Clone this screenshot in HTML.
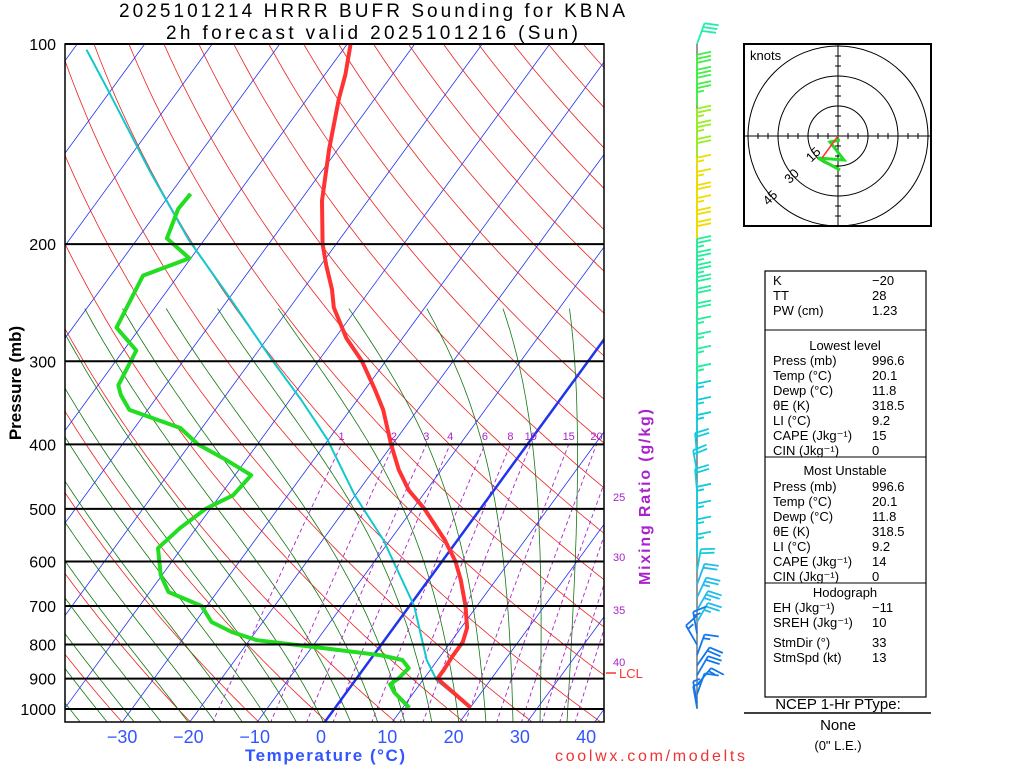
<!DOCTYPE html>
<html><head><meta charset="utf-8"><style>
html,body{margin:0;padding:0;background:#fff;}
svg{display:block;font-family:"Liberation Sans",sans-serif;}
</style></head><body>
<svg id="c" width="1024" height="768" viewBox="0 0 1024 768" xmlns="http://www.w3.org/2000/svg">
<defs><clipPath id="pc"><rect x="65" y="44" width="539" height="678"/></clipPath></defs>
<g id="bg" clip-path="url(#pc)"></g>
<g id="data" clip-path="url(#pc)"></g>
<g id="axes"></g>
<text x="372" y="17" text-anchor="middle" font-size="19" textLength="506">2025101214 HRRR BUFR Sounding for KBNA</text>
<text x="372" y="39" text-anchor="middle" font-size="19" textLength="412">2h forecast valid 2025101216 (Sun)</text>
<text transform="translate(21,383) rotate(-90)" text-anchor="middle" font-size="17" font-weight="bold">Pressure (mb)</text>
<text x="325" y="761" text-anchor="middle" font-size="17" font-weight="bold" fill="#3355ff" textLength="160">Temperature (°C)</text>
<text x="650" y="761" text-anchor="middle" font-size="16" fill="#ee3333" textLength="190">coolwx.com/modelts</text>
<text transform="translate(650,497) rotate(-90)" text-anchor="middle" font-size="16" font-weight="bold" fill="#aa22cc" textLength="176">Mixing Ratio (g/kg)</text>
<g id="barbs"></g>
<g id="hodo">
<rect x="744" y="44" width="187" height="182" fill="none" stroke="#000" stroke-width="2"/>
<text x="750" y="60" font-size="13">knots</text>
</g>
<g id="table" font-size="13">
<rect x="765" y="271" width="161" height="426" fill="none" stroke="#000" stroke-width="1.2"/>
<line x1="765" y1="330" x2="926" y2="330" stroke="#000"/>
<line x1="765" y1="457" x2="926" y2="457" stroke="#000"/>
<line x1="765" y1="583" x2="926" y2="583" stroke="#000"/>
</g>
<text x="838" y="709" text-anchor="middle" font-size="15">NCEP 1-Hr PType:</text>
<line x1="744" y1="713" x2="931" y2="713" stroke="#000" stroke-width="1.5"/>
<text x="838" y="730" text-anchor="middle" font-size="15">None</text>
<text x="838" y="750" text-anchor="middle" font-size="13">(0" L.E.)</text>
</svg>
<script>
// ---- data ----
const tempP = [996,923,900,874,832,793,755,700,640,600,557,500,469,437,400,355,331,300,277,249,234,215,200,172,144,121,111,100];
const tempT = [20.1,14.0,12.0,12.0,11.8,11.8,10.9,8.3,4.8,2.0,-1.9,-8.3,-12.6,-16.3,-20.2,-25.1,-28.5,-33.5,-38.3,-43.5,-45.7,-49.2,-52,-56.8,-61.3,-65.3,-67,-69.5];
const dewP = [996,944,918,900,868,844,830,810,788,766,740,700,667,629,573,534,500,477,445,422,400,378,355,337,326,289,267,223,210,196,177,168];
const dewT = [11.0,7.1,5.6,6.2,6.6,4.8,1.0,-8.2,-18.9,-23.5,-27.6,-30.8,-37.2,-40.2,-43.5,-42.4,-40.7,-38.1,-37.6,-43,-48.8,-53.2,-62.7,-65.6,-67,-68.1,-73.5,-75.2,-70.2,-75.7,-77.2,-77];
const parcelP = [996,906,844,700,557,477,393,343,298,243,197,155,117,102];
const parcelT = [20.1,12.1,8.4,0.7,-11,-20.1,-30.2,-38.3,-47.1,-59.4,-72.3,-85.6,-100.6,-108];
const pTicks = [100,200,300,400,500,600,700,800,900,1000];
const tTicks = [-30,-20,-10,0,10,20,30,40];
const mixW = [1,2,3,4,6,8,10,15,20,25,30,35,40];
const barbP = [100,112,118,124,135,142,150,160,168,176,184,192,200,212,222,232,242,252,265,280,295,310,330,350,370,390,415,440,470,500,530,560,590,620,650,680,710,740,770,800,830,860,890,920,950,980,996];
const barbDir = [20,360,360,360,360,360,360,360,360,360,360,360,360,360,360,360,360,360,360,360,360,360,360,360,360,360,355,350,355,360,360,360,360,10,20,25,30,30,350,330,20,35,30,40,20,350,350];
const barbSpd = [30,30,30,25,25,25,20,15,15,20,15,20,20,25,25,25,20,20,20,15,15,15,15,15,15,15,20,20,20,15,15,15,15,20,20,25,25,25,15,15,15,20,20,15,10,5,5];
const hodoU = [1,-4,3,-10,1];
const hodoV = [-2,-3,-12,-11,-17];
const tableRows = [["K","−20",285],["TT","28",300],["PW (cm)","1.23",315],
["Press (mb)","996.6",365],["Temp (°C)","20.1",380],["Dewp (°C)","11.8",395],["θE (K)","318.5",410],["LI (°C)","9.2",425],["CAPE (Jkg⁻¹)","15",440],["CIN (Jkg⁻¹)","0",455],
["Press (mb)","996.6",491],["Temp (°C)","20.1",506],["Dewp (°C)","11.8",521],["θE (K)","318.5",536],["LI (°C)","9.2",551],["CAPE (Jkg⁻¹)","14",566],["CIN (Jkg⁻¹)","0",581],
["EH (Jkg⁻¹)","−11",612],["SREH (Jkg⁻¹)","10",627],["StmDir (°)","33",647],["StmSpd (kt)","13",662]];
const tableHeads = [["Lowest level",350],["Most Unstable",475],["Hodograph",597]];

// ---- axis functions ----
const NS="http://www.w3.org/2000/svg";
const yOf = p => 44 + Math.log10(p/100)*665;
const xOf = (T,p) => 335 + T*6.75 + (708 - yOf(p))*0.73;
function el(tag, attrs, parent){const e=document.createElementNS(NS,tag);for(const k in attrs)e.setAttribute(k,attrs[k]);parent.appendChild(e);return e;}
const bg=document.getElementById('bg'), dg=document.getElementById('data'), ax=document.getElementById('axes');
function pathFrom(ps, Ts){return ps.map((p,i)=>(i?'L':'M')+xOf(Ts[i],p).toFixed(1)+','+yOf(p).toFixed(1)).join('');}
const plev=[];for(let p=1050;p>=100;p-=5)plev.push(p);

// dry adiabats
for(let th=200;th<=560;th+=10){
  const Ts=plev.map(p=>th*Math.pow(p/1000,0.286)-273.15);
  const e=el('path',{d:pathFrom(plev,Ts),stroke:'#ee2222','stroke-width':0.8,fill:'none'},bg);
  
  
}
// moist adiabats
const es=T=>6.112*Math.exp(17.67*T/(T+243.5));
for(let T0=-36;T0<=36;T0+=4){
  let T=T0+273.15; const ps=[],Ts=[];
  for(let p=1050;p>=250;p-=5){
    ps.push(p);Ts.push(T-273.15);
    const e=es(T-273.15), rs=0.622*e/(p-e);
    const dTdp=(287*T+2.5e6*rs)/(p*(1004+2.5e6*2.5e6*rs*0.622/(287*T*T)));
    T-=dTdp*5;
  }
  const e=el('path',{d:pathFrom(ps,Ts),stroke:'#117711','stroke-width':0.8,fill:'none'},bg);
  
  
}
// mixing ratio lines
const mp=[];for(let p=1050;p>=400;p-=10)mp.push(p);
mixW.forEach(w=>{
  const Ts=mp.map(p=>{const e=w/1000*p/(0.622+w/1000);const l=Math.log(e/6.112);return 243.5*l/(17.67-l);});
  const e=el('path',{d:pathFrom(mp,Ts),stroke:'#aa22cc','stroke-width':0.9,fill:'none','stroke-dasharray':'4,3'},bg);
  
  
  const x=xOf(Ts[Ts.length-1],400);
  if(x<604){const t=el('text',{x:x,y:440,'font-size':11,fill:'#aa22cc','text-anchor':'middle'},ax);t.textContent=w;
    
    }
});
[[25,501],[30,561],[35,614],[40,666]].forEach(a=>{const t=el('text',{x:613,y:a[1],'font-size':11,fill:'#aa22cc'},ax);t.textContent=a[0];
  
  });
// isotherms
for(let T=-140;T<=40;T+=10){
  const e=el('line',{x1:xOf(T,1050),y1:yOf(1050),x2:xOf(T,100),y2:yOf(100),stroke:'#2233ee','stroke-width':T===0?2.5:0.8},bg);
  
  
}
// isobars
pTicks.forEach(p=>{
  const y=yOf(p);
  const l=el('line',{x1:65,y1:y,x2:604,y2:y,stroke:'#000','stroke-width':2},ax);
  
  
  const t=el('text',{x:56,y:y+6,'font-size':16,'text-anchor':'end'},ax);t.textContent=p;
  
  
});
el('rect',{x:65,y:44,width:539,height:678,fill:'none',stroke:'#000','stroke-width':1.5},ax);
tTicks.forEach(T=>{
  const x=321+T*6.63;
  const t=el('text',{x:x,y:743,'font-size':18,'text-anchor':'middle',fill:'#3355ff'},ax);t.textContent=T<0?'−'+(-T):T;
  
  
});
// profiles
function prof(ps,Ts,col,w,name){const e=el('path',{d:pathFrom(ps,Ts),stroke:col,'stroke-width':w,fill:'none','stroke-linejoin':'round'},dg);
  
  }
prof(parcelP,parcelT,'#11c8cc',2,'parcel-line');
prof(tempP,tempT,'#ff3333',4,'temperature-line');
prof(dewP,dewT,'#22dd22',4,'dewpoint-line');
// LCL
el('line',{x1:606,y1:673,x2:616,y2:673,stroke:'#ff3333','stroke-width':1.5},ax);
const lcl=el('text',{x:619,y:678,'font-size':13,fill:'#ff3333'},ax);lcl.textContent='LCL';


// barbs
const bb=document.getElementById('barbs');
el('line',{x1:697,y1:44,x2:697,y2:709,stroke:'#777','stroke-width':1.5},bb);
function bcol(p){if(p<=125)return p<=105?'#22eeaa':'#44ee44';if(p<=150)return '#99ee22';if(p<=205)return '#eedd00';if(p<=330)return '#22ee99';if(p<=640)return '#11ccdd';if(p<=760)return '#22bbee';return '#1177ee';}
barbP.forEach((p,i)=>{
  const y=yOf(p),c=bcol(p),a=barbDir[i]*Math.PI/180,L=22;
  const dx=Math.sin(a),dy=-Math.cos(a);
  const x2=697+dx*L,y2=y+dy*L;
  const g=el('g',{stroke:c,'stroke-width':1.8,fill:c},bb);
  
  
  el('line',{x1:697,y1:y,x2:x2,y2:y2},g);
  const px=Math.cos(a),py=Math.sin(a);
  let s=barbSpd[i],k=0;
  while(s>=10){const bx=x2-dx*k*4,by=y2-dy*k*4;el('line',{x1:bx,y1:by,x2:bx+px*14+dx*3,y2:by+py*14+dy*3},g);s-=10;k++;}
  if(s>=5){const bx=x2-dx*k*4,by=y2-dy*k*4;el('line',{x1:bx,y1:by,x2:bx+px*7+dx*1.5,y2:by+py*7+dy*1.5},g);}
});
// hodograph
const hg=document.getElementById('hodo'),cx=838,cy=136,sc=2;
[15,30,45].forEach(r=>{el('circle',{cx:cx,cy:cy,r:r*sc,fill:'none',stroke:'#000','stroke-width':1},hg);
  const t=el('text',{x:cx-r*sc*0.72,y:cy+r*sc*0.72,'font-size':13,'text-anchor':'middle',transform:`rotate(-45 ${cx-r*sc*0.72} ${cy+r*sc*0.72})`},hg);t.textContent=r;
  
  });
el('line',{x1:744,y1:cy,x2:931,y2:cy,stroke:'#000'},hg);el('line',{x1:cx,y1:44,x2:cx,y2:226,stroke:'#000'},hg);
for(let k=-45;k<=45;k+=5){if(!k)continue;el('line',{x1:cx+k*sc,y1:cy-3,x2:cx+k*sc,y2:cy+3,stroke:'#000'},hg);el('line',{x1:cx-3,y1:cy+k*sc,x2:cx+3,y2:cy+k*sc,stroke:'#000'},hg);}
const hp=hodoU.map((u,i)=>(cx+u*sc)+','+(cy-hodoV[i]*sc)).join(' ');
const hl=el('polyline',{points:hp,fill:'none',stroke:'#22dd22','stroke-width':3},hg);


el('line',{x1:cx,y1:cy,x2:cx-8*sc,y2:cy+11*sc,stroke:'#ff3333','stroke-width':1.5},hg);
// table
const tb=document.getElementById('table');
tableRows.forEach(r=>{
  const a=el('text',{x:773,y:r[2]},tb);a.textContent=r[0];
  
  
  const b=el('text',{x:872,y:r[2]},tb);b.textContent=r[1];
  
  
});
tableHeads.forEach(h=>{const t=el('text',{x:845,y:h[1],'text-anchor':'middle'},tb);t.textContent=h[0];
  
  });
</script>
</body></html>
